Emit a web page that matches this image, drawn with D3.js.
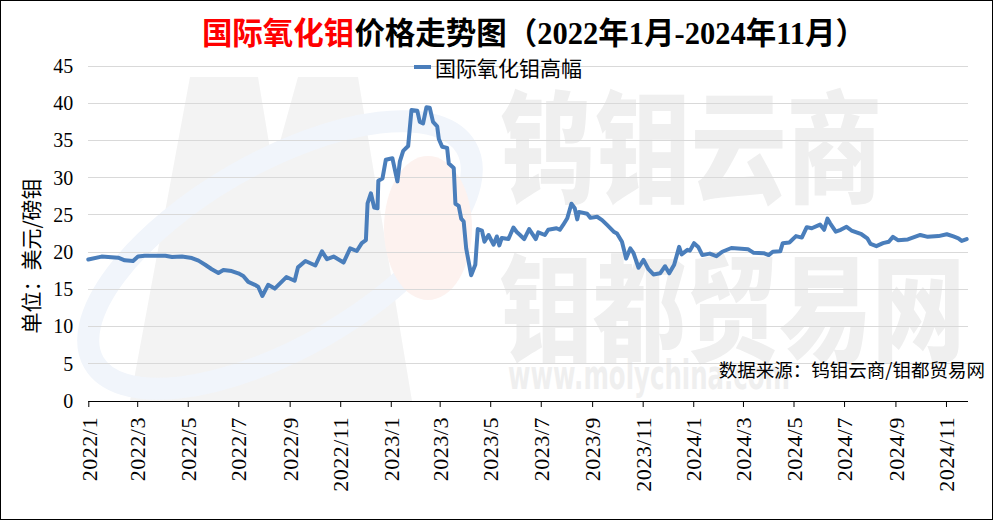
<!DOCTYPE html>
<html><head><meta charset="utf-8">
<script src="https://cdn.jsdelivr.net/npm/d3@7"></script>
<style>body{margin:0;background:#fff}svg{display:block}</style>
</head><body><svg id="c" width="993" height="520"></svg>
<script>
const dates = ["2022-01-01","2022-01-17","2022-02-06","2022-02-14","2022-02-24","2022-03-02","2022-03-10","2022-04-04","2022-04-12","2022-04-24","2022-05-06","2022-05-14","2022-05-22","2022-05-30","2022-06-07","2022-06-13","2022-06-23","2022-07-01","2022-07-07","2022-07-13","2022-07-21","2022-07-25","2022-07-30","2022-08-06","2022-08-14","2022-08-28","2022-09-07","2022-09-11","2022-09-20","2022-10-02","2022-10-10","2022-10-16","2022-10-24","2022-11-05","2022-11-13","2022-11-21","2022-11-27","2022-12-02","2022-12-04","2022-12-08","2022-12-12","2022-12-16","2022-12-17","2022-12-22","2022-12-26","2023-01-03","2023-01-09","2023-01-12","2023-01-16","2023-01-22","2023-01-26","2023-02-02","2023-02-05","2023-02-09","2023-02-13","2023-02-17","2023-02-21","2023-02-26","2023-02-28","2023-03-04","2023-03-10","2023-03-12","2023-03-18","2023-03-20","2023-03-24","2023-03-27","2023-03-30","2023-04-02","2023-04-08","2023-04-13","2023-04-16","2023-04-21","2023-04-24","2023-04-29","2023-05-05","2023-05-09","2023-05-12","2023-05-15","2023-05-23","2023-05-29","2023-06-02","2023-06-06","2023-06-11","2023-06-17","2023-06-25","2023-06-28","2023-07-06","2023-07-10","2023-07-20","2023-07-24","2023-07-28","2023-08-02","2023-08-07","2023-08-11","2023-08-14","2023-08-16","2023-08-26","2023-08-30","2023-09-07","2023-09-13","2023-09-19","2023-09-27","2023-10-01","2023-10-07","2023-10-12","2023-10-17","2023-10-21","2023-10-27","2023-11-02","2023-11-08","2023-11-14","2023-11-22","2023-11-28","2023-12-03","2023-12-09","2023-12-15","2023-12-18","2023-12-25","2023-12-28","2024-01-02","2024-01-07","2024-01-12","2024-01-21","2024-01-29","2024-02-05","2024-02-16","2024-03-07","2024-03-14","2024-03-26","2024-04-01","2024-04-06","2024-04-15","2024-04-18","2024-04-26","2024-05-04","2024-05-11","2024-05-17","2024-05-23","2024-06-02","2024-06-07","2024-06-11","2024-06-14","2024-06-21","2024-06-27","2024-07-04","2024-07-10","2024-07-22","2024-07-29","2024-08-02","2024-08-09","2024-08-17","2024-08-24","2024-08-29","2024-09-04","2024-09-16","2024-10-01","2024-10-10","2024-10-23","2024-11-02","2024-11-10","2024-11-16","2024-11-20","2024-11-26"];
const values = [19.0,19.4,19.25,18.9,18.8,19.4,19.5,19.5,19.35,19.4,19.2,18.85,18.3,17.7,17.2,17.6,17.45,17.15,16.8,16.0,15.6,15.35,14.1,15.6,15.1,16.65,16.15,17.95,18.8,18.2,20.1,19.05,19.4,18.6,20.5,20.15,21.2,21.6,26.55,27.9,26.0,25.9,29.6,29.9,32.4,32.6,29.5,32.2,33.6,34.25,39.1,39.0,37.5,37.3,39.45,39.4,37.5,36.9,35.2,34.15,34.0,31.9,31.3,26.5,26.2,24.5,24.1,20.5,16.9,18.3,23.1,22.9,21.4,22.3,21.0,22.1,20.9,21.9,21.75,23.3,22.7,22.3,21.75,23.1,21.75,22.65,22.3,23.0,23.2,23.0,23.65,24.55,26.5,25.9,24.4,25.4,25.15,24.6,24.75,24.3,23.65,22.75,22.5,21.4,19.15,20.5,19.85,17.9,18.95,17.7,17.0,17.15,18.1,17.15,18.3,20.7,19.7,20.3,20.2,21.2,20.7,19.6,19.8,19.45,20.05,20.55,20.4,19.9,19.85,19.6,20.05,20.1,21.2,21.3,22.15,21.95,23.35,23.2,23.7,23.0,24.5,23.9,22.75,23.0,23.4,22.9,22.4,21.85,21.1,20.8,21.2,21.4,22.05,21.6,21.7,22.3,22.05,22.15,22.4,22.1,21.85,21.5,21.75];
const yTicks = [0,5,10,15,20,25,30,35,40,45];
const xTickLabels = ["2022/1","2022/3","2022/5","2022/7","2022/9","2022/11","2023/1","2023/3","2023/5","2023/7","2023/9","2023/11","2024/1","2024/3","2024/5","2024/7","2024/9","2024/11"];
const seriesName = "国际氧化钼高幅";
const titleRed = "国际氧化钼";
const titleRest = "价格走势图（2022年1月-2024年11月）";
const yAxisTitle = "单位：美元/磅钼";
const sourceNote = "数据来源：钨钼云商/钼都贸易网";
const watermark1 = "钨钼云商", watermark2 = "钼都贸易网", watermark3 = "www.molychina.com";

const parse = d3.timeParse("%Y-%m-%d");
const data = dates.map((d,i)=>({date:parse(d), value:values[i]}));
const tickDates = xTickLabels.map(s=>{const [y,m]=s.split("/").map(Number);return new Date(y,m-1,1);});

const svg = d3.select("#c");
const W=993,H=520;
const L=88.3,R=966.7,T=66,B=401;
const x = d3.scaleTime().domain([parse("2022-01-01"), data[data.length-1].date]).range([L,R]);
const y = d3.scaleLinear().domain([0,45]).range([B,T]);
const serif = "'Liberation Serif','Noto Sans CJK SC',serif";
const cjk = "'Noto Sans CJK SC','Liberation Serif',sans-serif";

svg.append("rect").attr("width",W).attr("height",H).attr("fill","#fff");

// watermark
const wm = svg.append("g");
wm.append("path").attr("d","M190,77 L258,77 L273,167 L298,77 L358,77 L412,401 L130,401 Z").attr("fill","#f3f3f3");
wm.append("ellipse").attr("cx",280).attr("cy",255).attr("rx",215).attr("ry",92)
  .attr("transform","rotate(-30,280,255)").attr("fill","none").attr("stroke","#f1f5fb").attr("stroke-width",22);
wm.append("ellipse").attr("cx",428).attr("cy",228).attr("rx",44).attr("ry",72).attr("fill","#fdf2ef");
wm.append("text").attr("x",500).attr("y",139).attr("dominant-baseline","central").attr("font-family",cjk)
  .attr("font-weight",900).attr("font-size",122).attr("fill","#efefef")
  .attr("textLength",382).attr("lengthAdjust","spacingAndGlyphs").text(watermark1);
wm.append("text").attr("x",500).attr("y",301).attr("dominant-baseline","central").attr("font-family",cjk)
  .attr("font-weight",900).attr("font-size",116).attr("fill","#efefef")
  .attr("textLength",465).attr("lengthAdjust","spacingAndGlyphs").text(watermark2);
wm.append("text").attr("x",508).attr("y",375).attr("dominant-baseline","central").attr("font-family","'DejaVu Sans',sans-serif")
  .attr("font-weight","bold").attr("font-size",40).attr("fill","#efefef")
  .attr("textLength",282).attr("lengthAdjust","spacingAndGlyphs").text(watermark3);

// gridlines
svg.append("g").selectAll("line").data(yTicks.filter(v=>v>0)).join("line")
  .attr("x1",L).attr("x2",968).attr("y1",d=>y(d)).attr("y2",d=>y(d))
  .attr("stroke","#d9d9d9").attr("stroke-width",1).attr("shape-rendering","crispEdges");

// y axis
const ya = svg.append("g").attr("transform",`translate(${L},0)`)
  .call(d3.axisLeft(y).tickValues(yTicks).tickSize(0).tickPadding(15));
ya.select(".domain").remove();
ya.selectAll("text").attr("font-family",serif).attr("font-size",20).attr("fill","#000");

// line
svg.append("path").datum(data).attr("fill","none").attr("stroke","#4a7ebb").attr("stroke-width",4)
  .attr("stroke-linejoin","round").attr("stroke-linecap","round")
  .attr("d",d3.line().x(d=>x(d.date)).y(d=>y(d.value)));

// x axis
const xa = svg.append("g").attr("transform",`translate(0,${B})`)
  .call(d3.axisBottom(x).tickValues(tickDates).tickSize(6).tickSizeOuter(0)
    .tickFormat((d,i)=>xTickLabels[i]));
xa.select(".domain").attr("d",`M${L},0.5H968`).attr("stroke","#000");
xa.selectAll(".tick line").attr("stroke","#000");
xa.selectAll("text").attr("font-family",serif).attr("font-size",22).attr("fill","#000")
  .attr("letter-spacing","0.5px")
  .attr("transform","rotate(-90)").attr("text-anchor","end").attr("x",-16).attr("y",0).attr("dy","0.35em");

// y axis title
svg.append("text").attr("transform","translate(30,256) rotate(-90)").attr("text-anchor","middle")
  .attr("dominant-baseline","central").attr("font-family",cjk).attr("font-size",21).attr("fill","#000").text(yAxisTitle);

// title
const t = svg.append("text").attr("x",534).attr("y",44).attr("text-anchor","middle")
  .attr("font-family",serif).attr("font-size",30.5).attr("font-weight","bold");
t.append("tspan").attr("fill","#ff0000").text(titleRed);
t.append("tspan").attr("fill","#000").text(titleRest);

// legend
svg.append("line").attr("x1",414).attr("x2",431).attr("y1",67).attr("y2",67).attr("stroke","#4a7ebb").attr("stroke-width",4);
svg.append("text").attr("x",435).attr("y",67).attr("dominant-baseline","central").attr("font-family",cjk)
  .attr("font-size",21).attr("fill","#000").text(seriesName);

// source
svg.append("text").attr("x",985).attr("y",369).attr("text-anchor","end").attr("dominant-baseline","central")
  .attr("font-family",cjk).attr("font-size",18.5).attr("fill","#000").text(sourceNote);

// border
svg.append("rect").attr("x",0.5).attr("y",0.5).attr("width",W-1).attr("height",H-1).attr("fill","none").attr("stroke","#000");
</script></body></html>
